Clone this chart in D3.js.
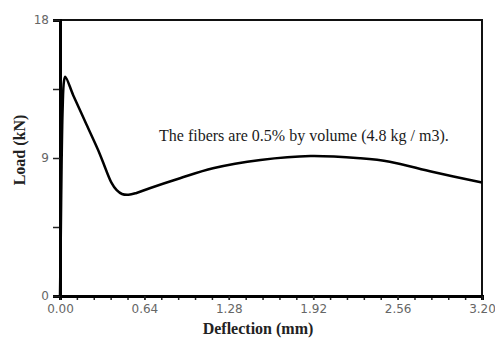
<!DOCTYPE html>
<html>
<head>
<meta charset="utf-8">
<script src="https://cdn.jsdelivr.net/npm/d3@7"></script>
<style>
  body { margin: 0; background: #fff; }
  svg { display: block; }
</style>
</head>
<body>
<figure id="chart" style="margin:0"></figure>
<script>
// deflection (mm) and load (kN)
const deflection = [0, 0.006, 0.012, 0.02, 0.03, 0.04, 0.1, 0.2, 0.3, 0.35, 0.39, 0.43, 0.47, 0.52, 0.58, 0.68, 0.91, 1.16, 1.52, 1.90, 2.275, 2.50, 2.83, 3.20];
const load = [0, 4.0, 8.5, 12.2, 14.0, 14.3, 13.1, 11.2, 9.3, 8.2, 7.4, 6.9, 6.65, 6.6, 6.72, 7.03, 7.68, 8.33, 8.87, 9.13, 8.98, 8.76, 8.09, 7.4];
const xTicks = [0, 0.64, 1.28, 1.92, 2.56, 3.20];
const xMinor = d3.range(0, 3.2001, 0.128);
const yTicks = [0, 9, 18];
const yMinor = [4.5, 13.5];
const note = "The fibers are 0.5% by volume (4.8 kg / m3).";

const width = 495, height = 345;
const margin = { top: 20, right: 13, bottom: 49, left: 60 };

const svg = d3.select("#chart").append("svg")
  .attr("width", width)
  .attr("height", height);

const x = d3.scaleLinear().domain([0, 3.2]).range([margin.left, width - margin.right]);
const y = d3.scaleLinear().domain([0, 18]).range([height - margin.bottom, margin.top]);

// frame: top and right
svg.append("path")
  .attr("d", `M${x(0)},${y(18)}H${x(3.2)}V${y(0)}`)
  .attr("fill", "none")
  .attr("stroke", "#111")
  .attr("stroke-width", 2);

// x axis
const xAxis = svg.append("g")
  .attr("transform", `translate(0,${y(0)})`);
xAxis.call(d3.axisBottom(x).tickValues(xMinor).tickSize(4).tickFormat(""));
xAxis.append("g").call(d3.axisBottom(x).tickValues(xTicks).tickSize(4).tickFormat(d3.format(".2f")));
xAxis.selectAll(".domain").attr("stroke", "#000").attr("stroke-width", 3);
xAxis.selectAll(".tick line").attr("stroke", "#222").attr("stroke-width", 1.5);
xAxis.selectAll("text")
  .attr("font-family", "'DejaVu Sans', sans-serif")
  .attr("font-size", 12)
  .attr("fill", "#666")
  .attr("dy", "0.85em");

// y axis
const yAxis = svg.append("g")
  .attr("transform", `translate(${x(0)},0)`);
yAxis.call(d3.axisLeft(y).tickValues(yMinor).tickSize(7).tickFormat(""));
yAxis.append("g").call(d3.axisLeft(y).tickValues(yTicks).tickSize(7).tickFormat(d3.format("d")));
yAxis.selectAll(".domain").attr("stroke", "#000").attr("stroke-width", 3);
yAxis.selectAll(".tick line").attr("stroke", "#222").attr("stroke-width", 1.5);
yAxis.selectAll("text")
  .attr("font-family", "'DejaVu Sans', sans-serif")
  .attr("font-size", 12)
  .attr("fill", "#666")
  .attr("x", -11);

// the load curve
const pts = deflection.map((d, i) => [d, load[i]]);
const line = d3.line()
  .x(d => x(d[0]))
  .y(d => y(d[1]))
  .curve(d3.curveCatmullRom.alpha(0.5));

svg.append("path")
  .datum(pts)
  .attr("d", line)
  .attr("fill", "none")
  .attr("stroke", "#000")
  .attr("stroke-width", 2.5)
  .attr("stroke-linejoin", "round");

// annotation
svg.append("text")
  .attr("x", 159)
  .attr("y", 141)
  .attr("font-family", "'Liberation Serif', serif")
  .attr("font-size", 16)
  .attr("fill", "#1a1a1a")
  .text(note);

// axis titles
svg.append("text")
  .attr("x", (x(0) + x(3.2)) / 2 - 13)
  .attr("y", 334)
  .attr("text-anchor", "middle")
  .attr("font-family", "'Liberation Serif', serif")
  .attr("font-weight", "bold")
  .attr("font-size", 16)
  .attr("fill", "#222")
  .text("Deflection (mm)");

svg.append("text")
  .attr("transform", `translate(25,150) rotate(-90)`)
  .attr("text-anchor", "middle")
  .attr("font-family", "'Liberation Serif', serif")
  .attr("font-weight", "bold")
  .attr("font-size", 16)
  .attr("fill", "#222")
  .text("Load (kN)");
</script>
</body>
</html>
